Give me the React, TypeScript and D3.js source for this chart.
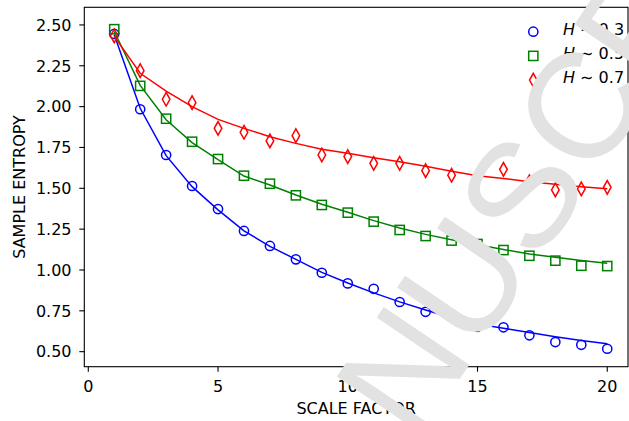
import React from "react";
import * as d3 from "d3";

const scales = d3.range(1, 21);
const blueMarks = [2.445, 1.984, 1.704, 1.514, 1.373, 1.239, 1.147, 1.065, 0.983, 0.918, 0.885, 0.804, 0.744, 0.73, 0.652, 0.649, 0.6, 0.559, 0.542, 0.518];
const greenMarks = [2.474, 2.127, 1.926, 1.785, 1.679, 1.577, 1.528, 1.457, 1.398, 1.351, 1.296, 1.245, 1.208, 1.18, 1.159, 1.122, 1.087, 1.057, 1.026, 1.024];
const redMarks = [2.433, 2.22, 2.045, 2.024, 1.867, 1.843, 1.79, 1.822, 1.704, 1.694, 1.653, 1.653, 1.608, 1.58, 1.557, 1.616, 1.54, 1.49, 1.496, 1.506];
const blueFit = [2.44, 1.99, 1.70, 1.51, 1.368, 1.24, 1.145, 1.065, 0.985, 0.92, 0.86, 0.805, 0.755, 0.708, 0.67, 0.643, 0.617, 0.592, 0.569, 0.548];
const greenFit = [2.46, 2.13, 1.92, 1.78, 1.675, 1.575, 1.52, 1.459, 1.402, 1.353, 1.302, 1.257, 1.218, 1.185, 1.155, 1.125, 1.098, 1.078, 1.058, 1.041];
const redFit = [2.43, 2.204, 2.095, 2.0, 1.922, 1.867, 1.816, 1.775, 1.739, 1.714, 1.687, 1.663, 1.635, 1.605, 1.577, 1.56, 1.54, 1.525, 1.51, 1.498];
const xTicks = [0, 5, 10, 15, 20];
const yTicks = [0.5, 0.75, 1.0, 1.25, 1.5, 1.75, 2.0, 2.25, 2.5];
const legendLabels = ["0.3", "0.5", "0.7"];

const W = 629, H = 421;
const L = 84.3, R = 628, T = 7.3, B = 366.7;
const FONT = "'DejaVu Sans', sans-serif";

const x = d3.scaleLinear().domain([-0.154, 20.8]).range([L, R]);
const y = d3.scaleLinear().domain([0.408, 2.608]).range([B, T]);

type Kind = "circle" | "square" | "diamond";
const series: { color: string; marks: number[]; fit: number[]; kind: Kind }[] = [
  { color: "#0000ff", marks: blueMarks, fit: blueFit, kind: "circle" },
  { color: "#008000", marks: greenMarks, fit: greenFit, kind: "square" },
  { color: "#ff0000", marks: redMarks, fit: redFit, kind: "diamond" },
];

function Marker({ kind, cx, cy, color }: { kind: Kind; cx: number; cy: number; color: string }) {
  const common = { fill: "none", stroke: color, strokeWidth: 1.5 };
  if (kind === "circle") return <circle cx={cx} cy={cy} r={4.6} {...common} />;
  if (kind === "square") return <rect x={cx - 4.6} y={cy - 4.6} width={9.2} height={9.2} {...common} />;
  const hw = 3.8, hh = 6.8;
  return <path d={`M${cx},${cy - hh}L${cx + hw},${cy}L${cx},${cy + hh}L${cx - hw},${cy}Z`} {...common} />;
}

export default function App() {
  const line = d3.line<number>().x((_, i) => x(scales[i])).y((d) => y(d));
  const fs = 150;
  const ang = -56;
  return (
    <svg width={W} height={H} style={{ position: "absolute", left: 0, top: 0, background: "#fff" }} fontFamily={FONT}>
      <rect width={W} height={H} fill="#fff" />
      {series.map((s, si) => (
        <g key={si}>
          <path d={line(s.fit) || ""} fill="none" stroke={s.color} strokeWidth={1.5} />
          {s.marks.map((v, i) => (
            <Marker key={i} kind={s.kind} cx={x(scales[i])} cy={y(v)} color={s.color} />
          ))}
        </g>
      ))}
      <rect x={L} y={T} width={R - L} height={B - T} fill="none" stroke="#000" strokeWidth={1.1} />
      {xTicks.map((t) => (
        <g key={t}>
          <line x1={x(t)} x2={x(t)} y1={B} y2={B + 5} stroke="#000" strokeWidth={1.1} />
          <text x={x(t)} y={392.4} textAnchor="middle" fontSize={16}>{t}</text>
        </g>
      ))}
      {yTicks.map((t) => (
        <g key={t}>
          <line x1={L - 5} x2={L} y1={y(t)} y2={y(t)} stroke="#000" strokeWidth={1.1} />
          <text x={71.5} y={y(t) + 5.8} textAnchor="end" fontSize={16}>{t.toFixed(2)}</text>
        </g>
      ))}
      <text x={(L + R) / 2} y={413.5} textAnchor="middle" fontSize={16}>SCALE FACTOR</text>
      <text transform={`translate(25,${(T + B) / 2}) rotate(-90)`} textAnchor="middle" fontSize={16}>SAMPLE ENTROPY</text>
      {series.map((s, i) => {
        const cy = 31.7 + i * 24.2;
        return (
          <g key={i}>
            <Marker kind={s.kind} cx={533.3} cy={cy} color={s.color} />
            <text x={563} y={cy + 3} fontSize={16}>
              <tspan fontStyle="italic">H</tspan> ∼ {legendLabels[i]}
            </text>
          </g>
        );
      })}
      <text
        transform={`translate(415.6,444.5) rotate(${ang})`}
        fontFamily="'Liberation Sans', Arial, sans-serif"
        fontSize={fs}
        fill="#e2e2e2"
      >
        NUSCR
      </text>
    </svg>
  );
}
